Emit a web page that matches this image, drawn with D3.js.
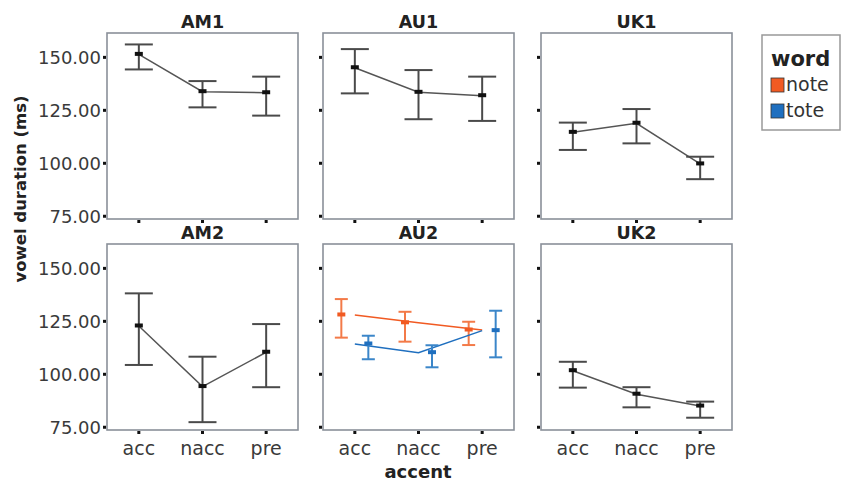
<!DOCTYPE html>
<html>
<head>
<meta charset="utf-8">
<script src="https://cdn.jsdelivr.net/npm/d3@7"></script>
<style>
  body { margin: 0; background: #fff; }
  svg { display: block; font-family: "DejaVu Sans", sans-serif; }
</style>
</head>
<body>
<svg width="841" height="482"></svg>
<script>
// categories
var accents = ["acc", "nacc", "pre"];
var speakers = ["AM1", "AU1", "UK1", "AM2", "AU2", "UK2"];
var yTicks = [75, 100, 125, 150];
var words = ["note", "tote"];

// means and error bar ends, one value per accent
var meanAM1 = [151.4, 133.8, 133.3], hiAM1 = [156.1, 138.8, 140.9], loAM1 = [144.3, 126.4, 122.5];
var meanAU1 = [145.1, 133.5, 131.9], hiAU1 = [153.9, 144.0, 140.9], loAU1 = [133.0, 120.8, 120.0];
var meanUK1 = [114.6, 118.9, 99.7],  hiUK1 = [119.2, 125.6, 103.1], loUK1 = [106.3, 109.4, 92.5];
var meanAM2 = [122.8, 94.2, 110.4],  hiAM2 = [138.2, 108.3, 123.7], loAM2 = [104.4, 77.4, 93.9];
var meanUK2 = [101.7, 90.6, 85.0],   hiUK2 = [105.9, 93.9, 87.1],   loUK2 = [93.7, 84.4, 79.5];
// AU2 split by word
var meanNote = [128.0, 124.3, 120.9], hiNote = [135.5, 129.5, 124.8], loNote = [117.3, 115.4, 113.8];
var meanTote = [114.3, 110.2, 120.6], hiTote = [118.2, 113.7, 130.0], loTote = [107.1, 103.3, 108.0];

var svg = d3.select("svg");

var colLeft = [107, 323, 541];
var rowTop = [33, 244];
var pw = 191, ph = 186;

var x = d3.scalePoint().domain(accents).range([0, pw]).padding(0.5);
var y = d3.scaleLinear().domain([73.7, 161.5]).range([ph, 0]);

var colors = { note: "#f15a22", tote: "#1f6fbf" };
var barColors = { note: "#f37a48", tote: "#3b86c9" };

function seriesOf(mean, hi, lo) {
  return accents.map(function (a, i) {
    return { accent: a, mean: mean[i], hi: hi[i], lo: lo[i] };
  });
}

var panels = [
  { name: "AM1", groups: [{ key: null, data: seriesOf(meanAM1, hiAM1, loAM1) }] },
  { name: "AU1", groups: [{ key: null, data: seriesOf(meanAU1, hiAU1, loAU1) }] },
  { name: "UK1", groups: [{ key: null, data: seriesOf(meanUK1, hiUK1, loUK1) }] },
  { name: "AM2", groups: [{ key: null, data: seriesOf(meanAM2, hiAM2, loAM2) }] },
  { name: "AU2", groups: [
      { key: "note", data: seriesOf(meanNote, hiNote, loNote) },
      { key: "tote", data: seriesOf(meanTote, hiTote, loTote) }] },
  { name: "UK2", groups: [{ key: null, data: seriesOf(meanUK2, hiUK2, loUK2) }] }
];

panels.forEach(function (p, i) {
  var col = i % 3, row = Math.floor(i / 3);
  var g = svg.append("g")
    .attr("transform", "translate(" + colLeft[col] + "," + rowTop[row] + ")");

  // frame
  g.append("rect")
    .attr("width", pw).attr("height", ph)
    .attr("fill", "#fff")
    .attr("stroke", "#8a9099")
    .attr("stroke-width", 1.6);

  // tick dots on the left and bottom edges
  g.selectAll(".ydot").data(yTicks).enter().append("rect")
    .attr("x", -4).attr("y", function (d) { return y(d) - 1.5; })
    .attr("width", 3).attr("height", 3).attr("fill", "#111");
  g.selectAll(".xdot").data(accents).enter().append("rect")
    .attr("x", function (d) { return x(d) - 1.5; }).attr("y", ph + 1)
    .attr("width", 3).attr("height", 3).attr("fill", "#111");

  if (col === 0) {
    g.selectAll(".ylab").data(yTicks).enter().append("text")
      .attr("x", -6).attr("y", function (d) { return y(d); })
      .attr("dy", "0.36em")
      .attr("text-anchor", "end")
      .style("font-size", "18px")
      .style("fill", "#3a3a3a")
      .text(function (d) { return d3.format(".2f")(d); });
  }
  if (row === 1) {
    g.selectAll(".xlab").data(accents).enter().append("text")
      .attr("x", function (d) { return x(d); }).attr("y", ph + 25)
      .attr("text-anchor", "middle")
      .style("font-size", "19px")
      .style("fill", "#3a3a3a")
      .text(function (d) { return d; });
  }

  // panel title
  g.append("text")
    .attr("x", pw / 2).attr("y", -5)
    .attr("text-anchor", "middle")
    .style("font-size", "17.5px").style("font-weight", "bold")
    .style("fill", "#222")
    .text(p.name);

  var dodged = p.groups.length > 1;
  p.groups.forEach(function (grp, gi) {
    var off = dodged ? (gi === 0 ? -13.5 : 13.5) : 0;
    var capW = dodged ? 13 : 28;
    var lineColor = grp.key ? colors[grp.key] : "#555";
    var barColor = grp.key ? barColors[grp.key] : "#4a4a4a";
    var markColor = grp.key ? colors[grp.key] : "#111";

    // connecting line through the means (drawn at undodged positions)
    g.append("path")
      .datum(grp.data)
      .attr("fill", "none")
      .attr("stroke", lineColor)
      .attr("stroke-width", 1.5)
      .attr("d", d3.line()
        .x(function (d) { return x(d.accent); })
        .y(function (d) { return y(d.mean); }));

    var eb = g.selectAll(null).data(grp.data).enter().append("g")
      .attr("transform", function (d) { return "translate(" + (x(d.accent) + off) + ",0)"; });
    eb.append("line")
      .attr("y1", function (d) { return y(d.hi); })
      .attr("y2", function (d) { return y(d.lo); })
      .attr("stroke", barColor).attr("stroke-width", 2);
    eb.append("line")
      .attr("x1", -capW / 2).attr("x2", capW / 2)
      .attr("y1", function (d) { return y(d.hi); })
      .attr("y2", function (d) { return y(d.hi); })
      .attr("stroke", barColor).attr("stroke-width", 2);
    eb.append("line")
      .attr("x1", -capW / 2).attr("x2", capW / 2)
      .attr("y1", function (d) { return y(d.lo); })
      .attr("y2", function (d) { return y(d.lo); })
      .attr("stroke", barColor).attr("stroke-width", 2);
    eb.append("rect")
      .attr("x", -4).attr("width", 8)
      .attr("y", function (d) { return y(d.mean) - 2.5; })
      .attr("height", 4)
      .attr("fill", markColor);
  });
});

// axis titles
svg.append("text")
  .attr("transform", "translate(26,189) rotate(-90)")
  .attr("text-anchor", "middle")
  .style("font-size", "16.5px").style("font-weight", "bold")
  .style("fill", "#222")
  .text("vowel duration (ms)");

svg.append("text")
  .attr("x", 418).attr("y", 478)
  .attr("text-anchor", "middle")
  .style("font-size", "18px").style("font-weight", "bold")
  .style("fill", "#222")
  .text("accent");

// legend
var lg = svg.append("g").attr("transform", "translate(762,35)");
lg.append("rect")
  .attr("width", 78).attr("height", 95)
  .attr("fill", "#fff").attr("stroke", "#999").attr("stroke-width", 1.5);
lg.append("text")
  .attr("x", 9).attr("y", 31)
  .style("font-size", "21px").style("font-weight", "bold")
  .style("fill", "#222")
  .text("word");
var item = lg.selectAll(".item").data(words).enter().append("g")
  .attr("transform", function (d, i) { return "translate(9," + (43 + i * 26) + ")"; });
item.append("rect")
  .attr("width", 13).attr("height", 14)
  .attr("fill", function (d) { return colors[d]; })
  .attr("stroke", "#333").attr("stroke-width", 0.8);
item.append("text")
  .attr("x", 15).attr("y", 13)
  .style("font-size", "19px")
  .style("fill", "#333")
  .text(function (d) { return d; });
</script>
</body>
</html>
